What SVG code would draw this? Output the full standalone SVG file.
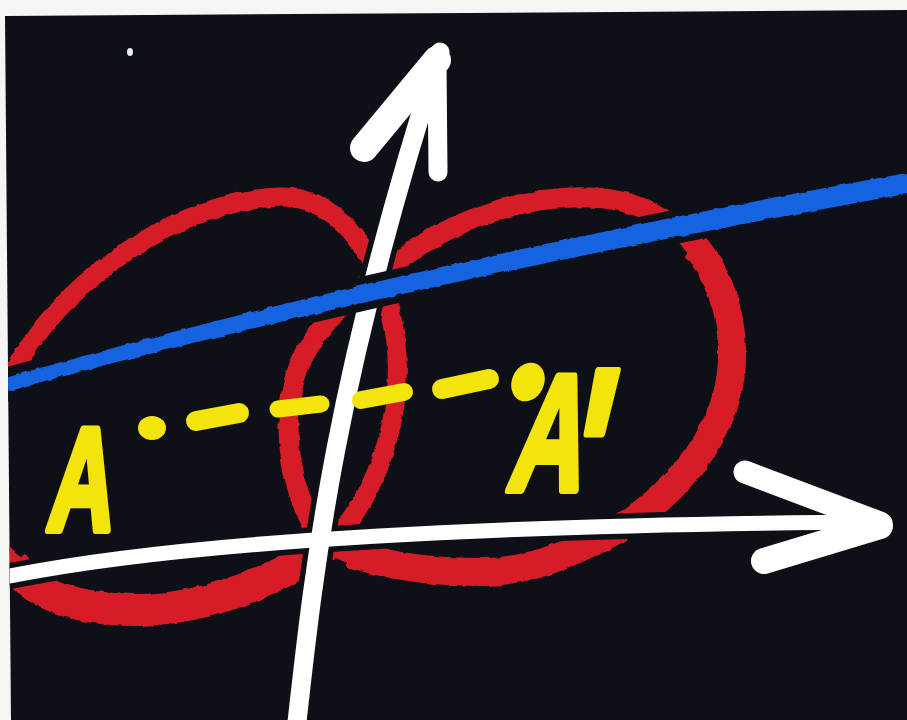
<svg xmlns="http://www.w3.org/2000/svg" width="907" height="720" viewBox="0 0 907 720">
  <style>
    .red { fill: none; stroke: #d61f27; stroke-linecap: round; stroke-linejoin: round; }
    .thick { stroke-linecap: butt; }
    .halo { fill: none; stroke: #0d1016; stroke-linecap: round; }
    .chalk { fill: none; stroke: #ffffff; stroke-linecap: round; stroke-linejoin: round; }
    .yel { fill: none; stroke: #f3e40c; stroke-linecap: round; }
    .lbl { fill: #f3e40c; stroke: #f3e40c; stroke-width: 8; stroke-linejoin: round; font-family: "Liberation Sans", Arial, sans-serif; font-weight: bold; }
  </style>
  <defs>
    <clipPath id="board-clip">
      <polygon points="5,16 907,10 907,720 11,720"/>
    </clipPath>
    <filter id="rough" x="-5%" y="-5%" width="110%" height="110%">
      <feTurbulence type="fractalNoise" baseFrequency="0.09" numOctaves="2" seed="3" result="n"/>
      <feDisplacementMap in="SourceGraphic" in2="n" scale="4" xChannelSelector="R" yChannelSelector="G"/>
    </filter>
  </defs>
  <rect x="0" y="0" width="907" height="720" fill="#f5f5f3"/>
  <polygon id="board" points="5,16 907,10 907,720 11,720" fill="#0d1016"/>
  <g clip-path="url(#board-clip)">
    <g filter="url(#rough)">
      <g id="loop-left">
        <path class="red" stroke-width="19" d="M 10,377 C 60,280 180,200 280,197 C 335,195 375,250 390,310 C 408,380 392,460 350,520 C 320,560 230,608 140,610 C 80,611 30,595 10,560 C -45,510 -45,420 10,377 Z"/>
        <path class="red thick" stroke-width="32" pathLength="1000" stroke-dasharray="0 575 265 160" d="M 10,377 C 60,280 180,200 280,197 C 335,195 375,250 390,310 C 408,380 392,460 350,520 C 320,560 230,608 140,610 C 80,611 30,595 10,560 C -45,510 -45,420 10,377 Z"/>
      </g>
      <g id="loop-right">
        <path class="red" stroke-width="20" d="M 387,270 C 440,225 520,192 600,198 C 680,205 730,270 732,350 C 734,420 690,480 630,522 C 600,540 540,572 483,572 C 420,572 365,562 330,545 C 295,515 282,440 292,390 C 300,345 340,300 387,270 Z"/>
        <path class="red thick" stroke-width="28" pathLength="1000" stroke-dasharray="0 262 472 266" d="M 387,270 C 440,225 520,192 600,198 C 680,205 730,270 732,350 C 734,420 690,480 630,522 C 600,540 540,572 483,572 C 420,572 365,562 330,545 C 295,515 282,440 292,390 C 300,345 340,300 387,270 Z"/>
      </g>
    </g>
    <g id="connectors">
      <g id="halos">
        <path class="halo" stroke-width="30" d="M 297,722 C 315,560 335,380 440,52"/>
        <path class="halo" stroke-width="26" d="M 10,576 C 150,548 400,525 885,522"/>
        <path class="halo" stroke-width="34" d="M 745,472 L 882,524"/>
        <path class="halo" stroke-width="36" d="M 764,561 L 882,526"/>
      </g>
      <g id="y-axis">
        <path class="chalk" stroke-width="19" d="M 297,722 C 315,560 335,380 440,52"/>
        <path class="chalk" stroke-width="28" d="M 437,60 L 364,148"/>
        <path class="chalk" stroke-width="19" d="M 437,62 L 438,172"/>
        <path class="chalk" stroke-width="14" d="M 440,52 L 430,80"/>
      </g>
      <g id="x-axis">
        <path class="chalk" stroke-width="15" d="M 10,576 C 150,548 400,525 885,522"/>
        <path class="chalk" stroke-width="23" d="M 745,472 L 880,523"/>
        <path class="chalk" stroke-width="26" d="M 764,561 L 880,526"/>
      </g>
      <g id="blue-line">
        <path class="halo" stroke-width="34" d="M 2,386 C 200,330 500,256 912,182"/>
        <path fill="#1664e2" filter="url(#rough)" d="M 2,379 C 200,322 500,246 912,172 L 912,193 C 500,266 200,338 2,393 Z"/>
      </g>
    </g>
    <g id="dashes">
      <ellipse cx="152" cy="428" rx="14" ry="12" fill="#f3e40c"/>
      <path class="yel" stroke-width="20" d="M 196,421 L 239,413"/>
      <path class="yel" stroke-width="17" d="M 278,409 L 321,404"/>
      <path class="yel" stroke-width="18" d="M 361,400 L 404,392"/>
      <path class="yel" stroke-width="20" d="M 442,389 L 489,379"/>
      <ellipse cx="528" cy="382" rx="16" ry="20" transform="rotate(25 528 382)" fill="#f3e40c"/>
    </g>
    <g id="label-A">
      <text class="lbl" font-size="146" text-anchor="middle" transform="translate(78,530) skewX(-7) scale(0.62,1)">A</text>
    </g>
    <g id="label-A-prime">
      <text class="lbl" font-size="165" transform="translate(505,490) skewX(-12) scale(0.62,1)">A<tspan font-size="250" dx="-24" dy="53">'</tspan></text>
    </g>
    <ellipse id="speck" cx="130" cy="52" rx="3" ry="4" fill="#e8eef2"/>
  </g>
</svg>
